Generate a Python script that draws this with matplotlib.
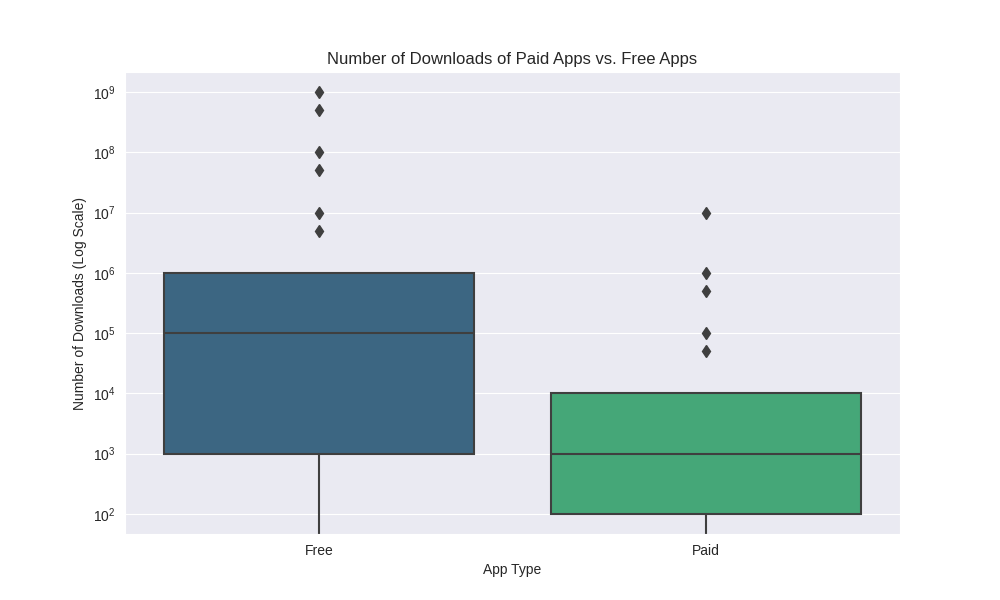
import matplotlib
matplotlib.use("Agg")
import matplotlib.pyplot as plt
import seaborn as sns

sns.set_style("darkgrid")
plt.rcParams['font.family'] = ['Liberation Sans', 'DejaVu Sans']

app_types = ['Free', 'Paid']
q1 = [1e3, 1e2]
medians = [1e5, 1e3]
q3 = [1e6, 1e4]
whis_low = [1, 1]
whis_high = [1e6, 1e4]
outliers = [
    [5e6, 1e7, 5e7, 1e8, 5e8, 1e9],
    [5e4, 1e5, 5e5, 1e6, 1e7],
]

colors = sns.color_palette("viridis", 2)
colors = [sns.desaturate(c, 0.75) for c in colors]
line_col = '#3f3f3f'

stats = []
for i, name in enumerate(app_types):
    stats.append(dict(label=name, q1=q1[i], med=medians[i], q3=q3[i],
                      whislo=whis_low[i], whishi=whis_high[i], fliers=outliers[i]))

fig, ax = plt.subplots(figsize=(10, 6), dpi=100)
box = ax.bxp(stats, positions=[0, 1], widths=0.8, patch_artist=True, showcaps=False,
             boxprops=dict(edgecolor=line_col, linewidth=1.5),
             medianprops=dict(color=line_col, linewidth=1.5),
             whiskerprops=dict(color=line_col, linewidth=1.5),
             flierprops=dict(marker='d', markerfacecolor=line_col, markeredgecolor=line_col,
                             markersize=6))
for b, c in zip(box['boxes'], colors):
    b.set_facecolor(c)

ax.set_yscale('log')
ax.set_ylim(10 ** 1.667, 10 ** 9.333)
ax.set_xlim(-0.5, 1.5)
ax.grid(False, axis='x')
ax.set_xticks([0, 1])
ax.set_xticklabels(app_types)
ax.set_title('Number of Downloads of Paid Apps vs. Free Apps')
ax.set_xlabel('App Type')
ax.set_ylabel('Number of Downloads (Log Scale)')

fig.savefig('out.png')
